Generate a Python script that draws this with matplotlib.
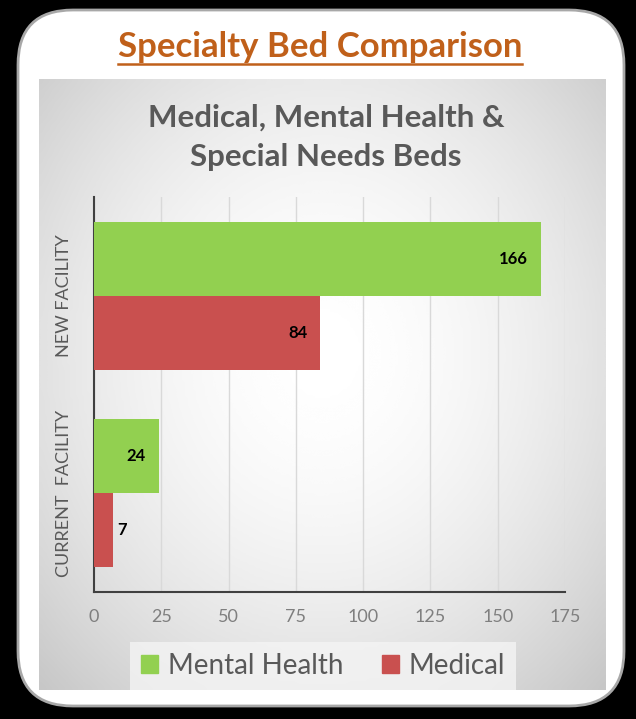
import numpy as np
import matplotlib.pyplot as plt
from matplotlib.patches import FancyBboxPatch, Patch

plt.rcParams['font.family'] = ['Lato', 'DejaVu Sans']

categories = ["CURRENT  FACILITY", "NEW FACILITY"]
mental_health = [24, 166]
medical = [7, 84]
series_names = ["Mental Health", "Medical"]
colors = ["#92D050", "#C9504F"]
xticks = [0, 25, 50, 75, 100, 125, 150, 175]

W, H = 636, 719
fig = plt.figure(figsize=(W / 100, H / 100), dpi=100, facecolor="black")

# background: rounded white card + grey gradient panel
bg = fig.add_axes([0, 0, 1, 1])
bg.set_xlim(0, W)
bg.set_ylim(H, 0)
bg.axis("off")
card = FancyBboxPatch((18, 10), 606, 696, boxstyle="round,pad=0,rounding_size=55",
                      facecolor="white", edgecolor="#a8a8a8", linewidth=2)
bg.add_patch(card)

yy, xx = np.mgrid[0:1:200j, 0:1:200j]
d = np.sqrt(((xx - 0.5) / 0.75) ** 2 + ((yy - 0.45) / 0.8) ** 2)
shade = np.clip(1.0 - 0.24 * d ** 1.8, 0.78, 1.0)
bg.imshow(shade, cmap="gray", vmin=0, vmax=1, extent=(39, 606, 690, 79),
          aspect="auto", zorder=2, interpolation="bicubic")

bg.text(320, 47, "Specialty Bed Comparison", ha="center", va="center",
        fontsize=25, fontweight="bold", color="#C0601A", zorder=3)
bg.plot([118, 522], [64, 64], color="#C0601A", lw=1.8, zorder=3)
bg.text(326, 137, "Medical, Mental Health &\nSpecial Needs Beds", ha="center",
        va="center", fontsize=22.5, fontweight="bold", color="#595959",
        linespacing=1.5, zorder=3)

# bar chart
ax = fig.add_axes([94 / W, 1 - 592 / H, 471 / W, 395 / H])
ax.set_facecolor("none")
y = np.arange(len(categories))
h = 0.375
ax.barh(y + h / 2, mental_health, height=h, color=colors[0], zorder=3)
ax.barh(y - h / 2, medical, height=h, color=colors[1], zorder=3)

for vals, off in [(mental_health, h / 2), (medical, -h / 2)]:
    for yi, v in zip(y, vals):
        if v > 15:
            ax.text(v - 4.8, yi + off, str(v), ha="right", va="center",
                    fontsize=12, fontweight="bold", color="black", zorder=4)
        else:
            ax.text(v + 1.5, yi + off, str(v), ha="left", va="center",
                    fontsize=12, fontweight="bold", color="black", zorder=4)

ax.set_xlim(0, 175)
ax.set_ylim(-0.5, 1.5)
ax.set_xticks(xticks)
ax.set_xticklabels([str(t) for t in xticks], fontsize=13, color="#7f7f7f")
ax.set_yticks(y)
ax.set_yticklabels(categories, rotation=90, va="center", fontsize=13, color="#595959")
ax.tick_params(length=0, pad=12)
ax.tick_params(axis="y", pad=16)
ax.grid(axis="x", color="#d9d9d9", lw=1, zorder=0)
for s in ["top", "right"]:
    ax.spines[s].set_visible(False)
for s in ["left", "bottom"]:
    ax.spines[s].set_color("#404040")
    ax.spines[s].set_linewidth(1.5)

handles = [Patch(color=c, label=n) for c, n in zip(colors, series_names)]
leg = fig.legend(handles=handles, loc="center", bbox_to_anchor=(323 / W, 1 - 666 / H),
                 ncol=2, fontsize=20, frameon=True, fancybox=False,
                 handlelength=0.6, handleheight=0.6, handletextpad=0.35,
                 columnspacing=1.4, borderpad=0.4, borderaxespad=0)
leg.get_frame().set_facecolor("#f4f4f4")
leg.get_frame().set_edgecolor("none")
for t in leg.get_texts():
    t.set_color("#595959")

fig.savefig("out.png", dpi=100, facecolor="black")
